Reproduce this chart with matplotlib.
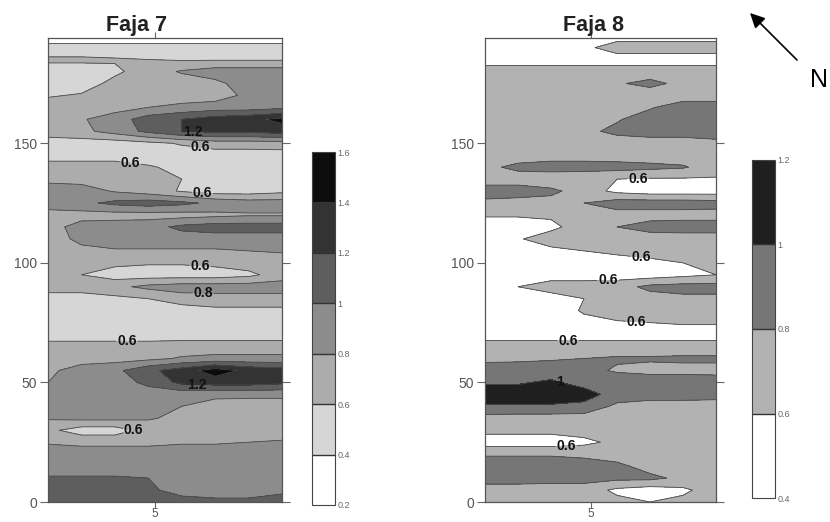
import numpy as np
import matplotlib.pyplot as plt

plt.rcParams['font.family'] = ['Liberation Sans', 'DejaVu Sans']

# grid nodes across the strip (x) and along it (y)
xs = [1.0, 2.25, 3.5, 4.75, 6.0, 7.25, 8.5, 9.75]
ys = list(range(0, 200, 5))

# Faja 7, rows from y=0 upwards
faja7 = [
    [1.10, 1.10, 1.10, 1.10, 1.10, 1.05, 1.05, 1.10],  # 0
    [1.10, 1.10, 1.10, 1.05, 0.90, 0.90, 0.90, 0.95],  # 5
    [1.02, 1.02, 1.02, 1.00, 0.95, 0.95, 0.95, 0.95],  # 10
    [0.90, 0.90, 0.90, 0.90, 0.90, 0.90, 0.90, 0.90],  # 15
    [0.90, 0.90, 0.90, 0.90, 0.90, 0.90, 0.90, 0.90],  # 20
    [0.78, 0.75, 0.75, 0.75, 0.78, 0.78, 0.80, 0.82],  # 25
    [0.65, 0.50, 0.50, 0.68, 0.70, 0.70, 0.70, 0.70],  # 30
    [0.82, 0.85, 0.85, 0.82, 0.75, 0.70, 0.70, 0.70],  # 35
    [0.85, 0.88, 0.88, 0.85, 0.80, 0.72, 0.70, 0.70],  # 40
    [0.85, 0.85, 0.90, 0.90, 0.88, 0.85, 0.85, 0.85],  # 45
    [0.80, 0.85, 0.90, 1.05, 1.25, 1.30, 1.30, 1.25],  # 50
    [0.75, 0.90, 0.95, 1.15, 1.30, 1.50, 1.35, 1.30],  # 55
    [0.70, 0.70, 0.72, 0.75, 0.82, 0.85, 0.85, 0.85],  # 60
    [0.68, 0.68, 0.68, 0.68, 0.70, 0.70, 0.70, 0.70],  # 65
    [0.50, 0.50, 0.50, 0.50, 0.50, 0.50, 0.50, 0.50],  # 70
    [0.50, 0.50, 0.50, 0.50, 0.50, 0.50, 0.50, 0.50],  # 75
    [0.50, 0.50, 0.50, 0.50, 0.50, 0.55, 0.55, 0.55],  # 80
    [0.50, 0.50, 0.55, 0.60, 0.70, 0.72, 0.72, 0.72],  # 85
    [0.70, 0.70, 0.75, 0.85, 0.90, 0.90, 0.90, 0.90],  # 90
    [0.70, 0.60, 0.50, 0.50, 0.50, 0.50, 0.55, 0.70],  # 95
    [0.70, 0.70, 0.65, 0.62, 0.62, 0.65, 0.70, 0.70],  # 100
    [0.70, 0.75, 0.78, 0.78, 0.78, 0.78, 0.80, 0.82],  # 105
    [0.70, 0.85, 0.90, 0.90, 0.90, 0.90, 0.90, 0.90],  # 110
    [0.72, 0.88, 0.90, 0.92, 1.05, 1.10, 1.10, 1.10],  # 115
    [0.72, 0.72, 0.72, 0.72, 0.72, 0.75, 0.78, 0.78],  # 120
    [0.90, 0.95, 1.05, 1.10, 1.05, 0.95, 0.90, 0.90],  # 125
    [0.90, 0.90, 0.78, 0.70, 0.58, 0.50, 0.50, 0.55],  # 130
    [0.75, 0.72, 0.70, 0.65, 0.60, 0.58, 0.58, 0.58],  # 135
    [0.70, 0.70, 0.65, 0.62, 0.55, 0.55, 0.55, 0.55],  # 140
    [0.50, 0.50, 0.55, 0.50, 0.50, 0.50, 0.50, 0.50],  # 145
    [0.50, 0.50, 0.50, 0.55, 0.62, 0.70, 0.70, 0.72],  # 150
    [0.70, 0.75, 0.88, 1.05, 1.20, 1.25, 1.25, 1.30],  # 155
    [0.70, 0.78, 0.90, 1.10, 1.20, 1.30, 1.35, 1.45],  # 160
    [0.70, 0.70, 0.72, 0.80, 0.85, 0.90, 0.90, 0.95],  # 165
    [0.58, 0.62, 0.70, 0.70, 0.70, 0.70, 0.85, 0.88],  # 170
    [0.50, 0.50, 0.66, 0.70, 0.70, 0.75, 0.90, 0.90],  # 175
    [0.50, 0.50, 0.56, 0.70, 0.82, 0.90, 0.90, 0.90],  # 180
    [0.64, 0.64, 0.62, 0.60, 0.58, 0.58, 0.58, 0.58],  # 185
    [0.46, 0.46, 0.46, 0.46, 0.46, 0.46, 0.46, 0.46],  # 190
    [0.30, 0.30, 0.30, 0.30, 0.30, 0.30, 0.30, 0.30],  # 195
]

# Faja 8, rows from y=0 upwards
faja8 = [
    [0.70, 0.70, 0.70, 0.70, 0.65, 0.60, 0.65, 0.70],  # 0
    [0.70, 0.70, 0.70, 0.70, 0.56, 0.50, 0.56, 0.70],  # 5
    [0.90, 0.90, 0.88, 0.88, 0.85, 0.85, 0.75, 0.70],  # 10
    [0.90, 0.90, 0.90, 0.90, 0.85, 0.72, 0.70, 0.70],  # 15
    [0.78, 0.78, 0.78, 0.75, 0.70, 0.70, 0.70, 0.70],  # 20
    [0.50, 0.50, 0.50, 0.55, 0.65, 0.70, 0.70, 0.70],  # 25
    [0.65, 0.65, 0.65, 0.68, 0.70, 0.70, 0.70, 0.70],  # 30
    [0.72, 0.70, 0.70, 0.70, 0.70, 0.70, 0.70, 0.70],  # 35
    [0.98, 0.98, 0.98, 0.95, 0.75, 0.70, 0.70, 0.70],  # 40
    [1.10, 1.10, 1.10, 1.08, 0.92, 0.90, 0.90, 0.88],  # 45
    [0.98, 0.98, 1.03, 0.93, 0.90, 0.90, 0.90, 0.88],  # 50
    [0.90, 0.90, 0.90, 0.85, 0.78, 0.75, 0.75, 0.75],  # 55
    [0.75, 0.76, 0.78, 0.80, 0.82, 0.82, 0.83, 0.83],  # 60
    [0.70, 0.70, 0.70, 0.70, 0.70, 0.70, 0.70, 0.70],  # 65
    [0.50, 0.50, 0.50, 0.50, 0.50, 0.50, 0.50, 0.50],  # 70
    [0.50, 0.50, 0.50, 0.55, 0.58, 0.60, 0.62, 0.62],  # 75
    [0.50, 0.50, 0.50, 0.62, 0.70, 0.70, 0.70, 0.70],  # 80
    [0.50, 0.50, 0.50, 0.60, 0.70, 0.72, 0.75, 0.75],  # 85
    [0.50, 0.60, 0.70, 0.70, 0.72, 0.85, 0.88, 0.88],  # 90
    [0.50, 0.50, 0.50, 0.50, 0.50, 0.50, 0.55, 0.60],  # 95
    [0.50, 0.50, 0.50, 0.50, 0.50, 0.55, 0.60, 0.65],  # 100
    [0.50, 0.50, 0.55, 0.60, 0.65, 0.68, 0.70, 0.70],  # 105
    [0.50, 0.58, 0.70, 0.70, 0.70, 0.70, 0.70, 0.70],  # 110
    [0.50, 0.50, 0.55, 0.70, 0.80, 0.88, 0.90, 0.90],  # 115
    [0.62, 0.62, 0.63, 0.68, 0.72, 0.72, 0.72, 0.72],  # 120
    [0.75, 0.72, 0.72, 0.80, 0.90, 0.90, 0.90, 0.88],  # 125
    [0.90, 0.90, 0.85, 0.70, 0.55, 0.50, 0.50, 0.50],  # 130
    [0.70, 0.70, 0.65, 0.62, 0.60, 0.58, 0.58, 0.58],  # 135
    [0.75, 0.85, 0.90, 0.90, 0.88, 0.85, 0.82, 0.70],  # 140
    [0.70, 0.70, 0.70, 0.70, 0.70, 0.70, 0.70, 0.70],  # 145
    [0.70, 0.70, 0.70, 0.70, 0.70, 0.70, 0.70, 0.75],  # 150
    [0.70, 0.70, 0.70, 0.75, 0.85, 0.90, 0.90, 0.90],  # 155
    [0.70, 0.70, 0.70, 0.70, 0.78, 0.90, 0.90, 0.90],  # 160
    [0.70, 0.70, 0.70, 0.70, 0.70, 0.78, 0.90, 0.90],  # 165
    [0.70, 0.70, 0.70, 0.70, 0.70, 0.70, 0.70, 0.70],  # 170
    [0.70, 0.70, 0.70, 0.70, 0.78, 0.85, 0.75, 0.70],  # 175
    [0.70, 0.70, 0.70, 0.70, 0.70, 0.70, 0.70, 0.70],  # 180
    [0.50, 0.50, 0.50, 0.50, 0.50, 0.50, 0.50, 0.50],  # 185
    [0.50, 0.50, 0.50, 0.55, 0.70, 0.70, 0.70, 0.70],  # 190
    [0.50, 0.50, 0.50, 0.50, 0.50, 0.50, 0.50, 0.50],  # 195
]

levels7 = [0.2, 0.4, 0.6, 0.8, 1.0, 1.2, 1.4, 1.6]
colors7 = ['#ffffff', '#d6d6d6', '#acacac', '#8c8c8c', '#5e5e5e', '#333333', '#0c0c0c']
levels8 = [0.4, 0.6, 0.8, 1.0, 1.2]
colors8 = ['#ffffff', '#b2b2b2', '#767676', '#1f1f1f']

# contour labels: (x, y, level)
labels7 = [(6.42, 155.6, 1.2), (6.68, 146.0, 0.6), (4.07, 141.4, 0.6),
           (6.8, 133.5, 0.6), (6.68, 96.7, 0.6), (6.8, 84.5, 0.8),
           (3.95, 66.0, 0.6), (6.57, 50.2, 1.2), (4.55, 28.9, 0.6)]
labels8 = [(6.8, 134.7, 0.6), (6.9, 102.0, 0.6), (5.66, 90.8, 0.6),
           (6.72, 75.3, 0.6), (4.14, 64.9, 0.6), (3.84, 50.2, 1.0),
           (4.07, 25.1, 0.6)]

W, H = 830, 522
fig = plt.figure(figsize=(W / 100, H / 100), dpi=100)


def strip(ax, cax, z, levels, colors, title, title_x, labels):
    z = np.array(z)
    cf = ax.contourf(xs, ys, z, levels=levels, colors=colors)
    # one line set per level so each can be labelled on its own
    for lev in levels:
        cs = ax.contour(xs, ys, z, levels=[lev], colors='#4a4a4a', linewidths=0.6)
        pts = [(x, y) for x, y, l in labels if l == lev]
        if not pts:
            continue
        texts = ax.clabel(cs, manual=pts, fmt='%g', fontsize=10,
                          inline=True, inline_spacing=1)
        for t in texts:
            t.set_fontweight('bold')
            t.set_rotation(0)
            t.set_color('#111111')

    ax.set_xlim(1, 9.75)
    ax.set_ylim(0, 194)
    ax.set_xticks([5])
    ax.set_yticks([0, 50, 100, 150])
    ax.tick_params(axis='y', direction='out', length=6, width=0.8, pad=2,
                   color='#666666', labelcolor='#555555', labelsize=10,
                   right=True, labelright=False)
    ax.tick_params(axis='x', direction='out', length=4, width=0.8, pad=0.5,
                   color='#666666', labelcolor='#555555', labelsize=8.5,
                   top=True, labeltop=False)
    for sp in ax.spines.values():
        sp.set_color('#555555')
        sp.set_linewidth(0.9)
    ax.text(title_x, 1.016, title, transform=ax.transAxes, ha='center',
            va='baseline', fontsize=15.5, fontweight='bold', color='#222222')

    cb = fig.colorbar(cf, cax=cax, drawedges=True)
    cb.set_ticks(levels)
    cb.set_ticklabels(['%g' % v for v in levels])
    cb.ax.tick_params(length=0, labelsize=6.5, labelcolor='#666666', pad=2)
    cb.outline.set_edgecolor('#444444')
    cb.outline.set_linewidth(0.8)
    cb.dividers.set_color('#333333')
    cb.dividers.set_linewidth(1.0)


ax7 = fig.add_axes([48 / W, 20 / H, 234 / W, 464 / H])
cax7 = fig.add_axes([312 / W, 17 / H, 23 / W, 353 / H])
strip(ax7, cax7, faja7, levels7, colors7, 'Faja 7', 0.38, labels7)

ax8 = fig.add_axes([485 / W, 20 / H, 231 / W, 464 / H])
cax8 = fig.add_axes([752 / W, 24 / H, 23 / W, 338 / H])
strip(ax8, cax8, faja8, levels8, colors8, 'Faja 8', 0.47, labels8)

# north arrow
ax8.annotate('', xy=(750 / W, 1 - 13 / H), xytext=(797 / W, 1 - 60 / H),
             xycoords='figure fraction', textcoords='figure fraction',
             annotation_clip=False,
             arrowprops=dict(arrowstyle='-|>', color='black', lw=1.2,
                             mutation_scale=22, shrinkA=0, shrinkB=0))
fig.text(810 / W, 1 - 87 / H, 'N', fontsize=18, ha='left', va='baseline')

fig.savefig('out.png', dpi=100)
